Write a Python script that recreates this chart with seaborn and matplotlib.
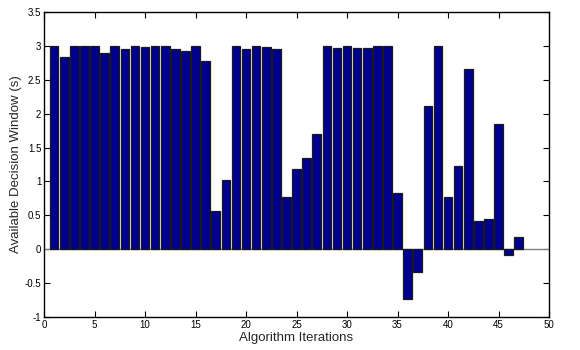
import matplotlib
matplotlib.use("Agg")
import matplotlib.pyplot as plt
import seaborn as sns
import numpy as np
import pandas as pd

iterations = list(range(1, 48))
window_s = [3.00, 2.83, 3.00, 3.00, 3.00, 2.89, 3.00, 2.96, 3.00, 2.98,
            3.00, 3.00, 2.95, 2.93, 3.00, 2.77, 0.57, 1.02, 3.00, 2.96,
            3.00, 2.98, 2.95, 0.77, 1.18, 1.34, 1.70, 3.00, 2.97, 3.00,
            2.97, 2.97, 3.00, 3.00, 0.83, -0.74, -0.33, 2.11, 3.00, 0.77,
            1.23, 2.66, 0.42, 0.45, 1.84, -0.09, 0.18]
xticks = list(range(0, 51, 5))
yticks = [-1, -0.5, 0, 0.5, 1, 1.5, 2, 2.5, 3, 3.5]
ytick_labels = ["-1", "-0.5", "0", "0.5", "1", "1.5", "2", "2.5", "3", "3.5"]

sns.set_style("white")
plt.rcParams['font.family'] = ['Liberation Sans', 'DejaVu Sans']

df = pd.DataFrame({"iter": iterations, "val": window_s})

fig = plt.figure(figsize=(5.8, 3.5), dpi=100)
ax = fig.add_axes([0.0759, 0.094, 0.8707, 0.872])

ax.axhline(0, color="#7f7f7f", lw=1.0, zorder=1)
sns.barplot(data=df, x="iter", y="val", native_scale=True, width=0.85,
            color="#00008f", saturation=1, edgecolor="#1a1a1a", linewidth=0.9,
            ax=ax, zorder=2)

ax.set_xlim(0, 50)
ax.set_ylim(-1, 3.5)
ax.set_xticks(xticks)
ax.set_xticklabels([str(t) for t in xticks])
ax.set_yticks(yticks)
ax.set_yticklabels(ytick_labels)
ax.tick_params(direction="in", length=4, width=0.8, labelsize=7,
               top=True, right=True, bottom=True, left=True, pad=2,
               colors="black")
for s in ax.spines.values():
    s.set_visible(True)
    s.set_color("black")
    s.set_linewidth(1.0)
ax.set_xlabel("Algorithm Iterations", fontsize=9.5, labelpad=1.5)
ax.set_ylabel("Available Decision Window (s)", fontsize=9.5, labelpad=2)

fig.savefig("out.png", dpi=100)
